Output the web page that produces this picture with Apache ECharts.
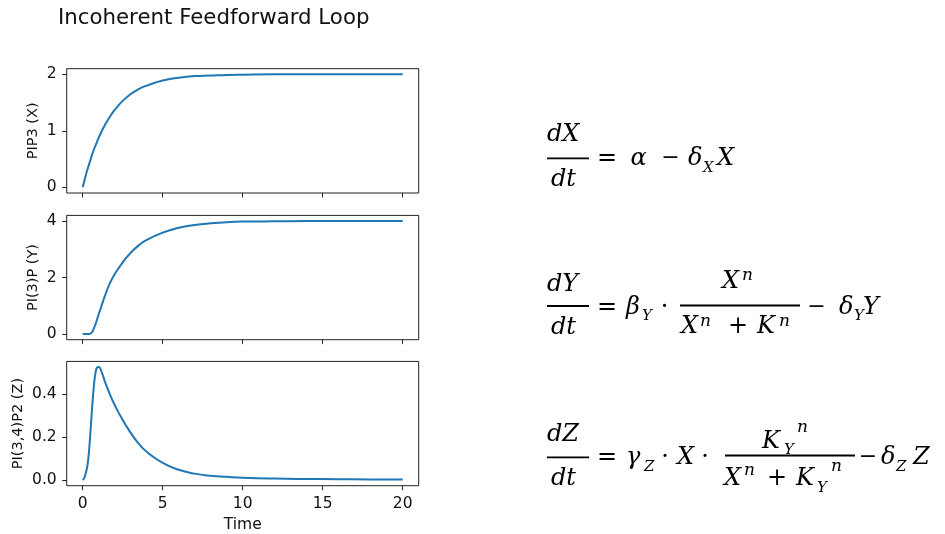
<!DOCTYPE html>
<html>
<head>
<meta charset="utf-8">
<script src="https://cdn.jsdelivr.net/npm/echarts@6/dist/echarts.min.js"></script>
<style>
  html, body { margin: 0; padding: 0; background: #fff; }
  #chart { width: 945px; height: 534px; }
</style>
</head>
<body>
<div id="chart"></div>
<script>
// Simulated time course of the incoherent feedforward loop
const time = [0, 0.1, 0.2, 0.3, 0.4, 0.5, 0.6, 0.7, 0.8, 0.9, 1.0, 1.2, 1.4, 1.7, 2.0, 2.5, 3.0, 3.5, 4.0, 5.0, 6.0, 7.0, 8.0, 9.0, 10, 12, 14, 16, 18, 20];
const pip3 = [0, 0.11, 0.22, 0.32, 0.41, 0.50, 0.59, 0.67, 0.74, 0.81, 0.88, 1.00, 1.11, 1.25, 1.37, 1.53, 1.65, 1.74, 1.80, 1.89, 1.94, 1.97, 1.98, 1.99, 1.995, 2.0, 2.0, 2.0, 2.0, 2.0];
const pi3p = [0, 0, 0, 0, 0, 0.02, 0.08, 0.20, 0.35, 0.52, 0.70, 1.04, 1.37, 1.80, 2.12, 2.54, 2.88, 3.14, 3.33, 3.59, 3.76, 3.86, 3.92, 3.96, 3.98, 3.99, 4.0, 4.0, 4.0, 4.0];
const pi34p2 = [0, 0.01, 0.035, 0.07, 0.14, 0.24, 0.35, 0.44, 0.50, 0.525, 0.527, 0.50, 0.457, 0.40, 0.35, 0.28, 0.22, 0.17, 0.132, 0.080, 0.048, 0.030, 0.020, 0.015, 0.011, 0.007, 0.005, 0.004, 0.003, 0.003];

const panelNames = ['PIP3 (X)', 'PI(3)P (Y)', 'PI(3,4)P2 (Z)'];
const panelSeries = [pip3, pi3p, pi34p2];
const yTicks = [[0, 1, 2], [0, 2, 4], [0, 0.2, 0.4]];
const yDecimals = [0, 0, 1];
const timeTicks = [0, 5, 10, 15, 20];
const xLabel = 'Time';
const titleText = 'Incoherent Feedforward Loop';

// layout
const gridLeft = 66.7, gridWidth = 352, gridHeight = 124.3;
const gridTops = [68.7, 215.4, 361.4];
const nameGaps = [26, 26, 41];
const sans = '"DejaVu Sans", sans-serif';
const ink = '#111';
const FS = 15.5;

function padRange(vals, frac) {
  const lo = Math.min(...vals), hi = Math.max(...vals);
  const p = (hi - lo) * frac;
  return [lo - p, hi + p];
}
const tRange = padRange(time, 0.05);

const grids = [], xAxes = [], yAxes = [], series = [];
panelSeries.forEach((vals, i) => {
  const yr = padRange(vals, 0.05);
  const last = i === panelSeries.length - 1;
  grids.push({
    left: gridLeft, top: gridTops[i], width: gridWidth, height: gridHeight,
    show: true, borderColor: '#222', borderWidth: 1, backgroundColor: 'transparent'
  });
  xAxes.push({
    type: 'value', gridIndex: i, min: tRange[0], max: tRange[1],
    splitLine: { show: false }, axisLine: { show: false, onZero: false },
    axisTick: { show: true, inside: false, length: 4.5, customValues: timeTicks, lineStyle: { color: '#222', width: 1 } },
    axisLabel: { show: last, customValues: timeTicks, margin: 10, color: ink, fontSize: FS, fontFamily: sans },
    name: last ? xLabel : '', nameLocation: 'middle', nameGap: 31,
    nameTextStyle: { color: ink, fontSize: FS, fontFamily: sans }
  });
  yAxes.push({
    type: 'value', gridIndex: i, min: yr[0], max: yr[1],
    splitLine: { show: false }, axisLine: { show: false, onZero: false },
    axisTick: { show: true, inside: false, length: 4.5, customValues: yTicks[i], lineStyle: { color: '#222', width: 1 } },
    axisLabel: {
      customValues: yTicks[i], margin: 10, color: ink, fontSize: FS, fontFamily: sans,
      formatter: (v) => v.toFixed(yDecimals[i])
    },
    name: panelNames[i], nameLocation: 'middle', nameGap: nameGaps[i], nameRotate: 90,
    nameTextStyle: { color: ink, fontSize: 14.5, fontFamily: sans }
  });
  series.push({
    type: 'line', xAxisIndex: i, yAxisIndex: i,
    data: time.map((t, k) => [t, vals[k]]),
    showSymbol: false, smooth: 0.5,
    lineStyle: { color: '#1f77b4', width: 2 }, silent: true
  });
});

// ---- rate equations, typeset from positioned glyph runs ----
const serif = '"DejaVu Serif", "Liberation Serif", serif';
const S = 24, SUB = 15, SUP = 17, OP = 24, MINUS = 22;
const up = { upright: true, align: 'center' };
function glyph(x, base, str, size, opt) {
  opt = opt || {};
  return {
    type: 'text', silent: true,
    x: x, y: base - 0.346 * size,
    style: {
      text: str, fill: '#000',
      font: (opt.upright ? '' : 'italic ') + size + 'px ' + serif,
      align: opt.align || 'left', verticalAlign: 'middle'
    }
  };
}
// a slightly narrower minus sign, lifted so it stays on the math axis
function minus(cx, base) {
  return glyph(cx, base - 0.7, '−', MINUS, up);
}
function bar(x1, x2, y) {
  return { type: 'line', silent: true, shape: { x1: x1, y1: y, x2: x2, y2: y }, style: { stroke: '#000', lineWidth: 1.8 } };
}
function lhs(v, top, barY, bottom) {
  return [glyph(547, top, 'd' + v, S), bar(547, 589, barY), glyph(551, bottom, 'dt', S)];
}

const eq = [];
// dX/dt = α − δX X
eq.push(...lhs('X', 143, 158.3, 188));
eq.push(glyph(607, 167, '=', OP, up));
eq.push(glyph(638.5, 167, 'α', S, { align: 'center' }));
eq.push(minus(670.5, 167));
eq.push(glyph(688, 167, 'δ', S));
eq.push(glyph(703, 173, 'X', SUB));
eq.push(glyph(717, 167, 'X', S));

// dY/dt = βY · Xⁿ/(Xⁿ+Kⁿ) − δY Y
eq.push(...lhs('Y', 293, 306, 336));
eq.push(glyph(607, 316, '=', OP, up));
eq.push(glyph(626, 316, 'β', S));
eq.push(glyph(642, 321, 'Y', SUB));
eq.push(glyph(664.5, 316, '·', OP, up));
eq.push(glyph(722, 290, 'X', S));
eq.push(glyph(742, 281, 'n', SUP));
eq.push(bar(680, 800, 305.5));
eq.push(glyph(681, 335, 'X', S));
eq.push(glyph(700, 327, 'n', SUP));
eq.push(glyph(738, 335, '+', OP, up));
eq.push(glyph(757, 335, 'K', S));
eq.push(glyph(779, 327, 'n', SUP));
eq.push(minus(816.5, 316));
eq.push(glyph(839, 316, 'δ', S));
eq.push(glyph(854, 321, 'Y', SUB));
eq.push(glyph(863, 316, 'Y', S));

// dZ/dt = γZ · X · KYⁿ/(Xⁿ+KYⁿ) − δZ Z
eq.push(...lhs('Z', 443, 457.3, 487));
eq.push(glyph(607, 466, '=', OP, up));
eq.push(glyph(626, 466, 'γ', S));
eq.push(glyph(644, 472, 'Z', SUB));
eq.push(glyph(665, 466, '·', OP, up));
eq.push(glyph(677, 466, 'X', S));
eq.push(glyph(705, 466, '·', OP, up));
eq.push(glyph(762, 450, 'K', S));
eq.push(glyph(784, 455, 'Y', SUB));
eq.push(glyph(797, 433, 'n', SUP));
eq.push(bar(725, 855, 455.5));
eq.push(glyph(724, 487, 'X', S));
eq.push(glyph(744, 476, 'n', SUP));
eq.push(glyph(777, 487, '+', OP, up));
eq.push(glyph(796, 487, 'K', S));
eq.push(glyph(817, 493, 'Y', SUB));
eq.push(glyph(831, 472, 'n', SUP));
eq.push(minus(868, 466));
eq.push(glyph(881, 466, 'δ', S));
eq.push(glyph(896, 472, 'Z', SUB));
eq.push(glyph(913, 466, 'Z', S));

const chart = echarts.init(document.getElementById('chart'), null, { renderer: 'canvas' });
chart.setOption({
  animation: false,
  backgroundColor: '#fff',
  title: {
    text: titleText, left: 58, top: 8, padding: 0,
    textStyle: { fontSize: 21.3, fontWeight: 'normal', color: ink, fontFamily: sans }
  },
  grid: grids, xAxis: xAxes, yAxis: yAxes, series: series,
  graphic: eq
});
</script>
</body>
</html>
